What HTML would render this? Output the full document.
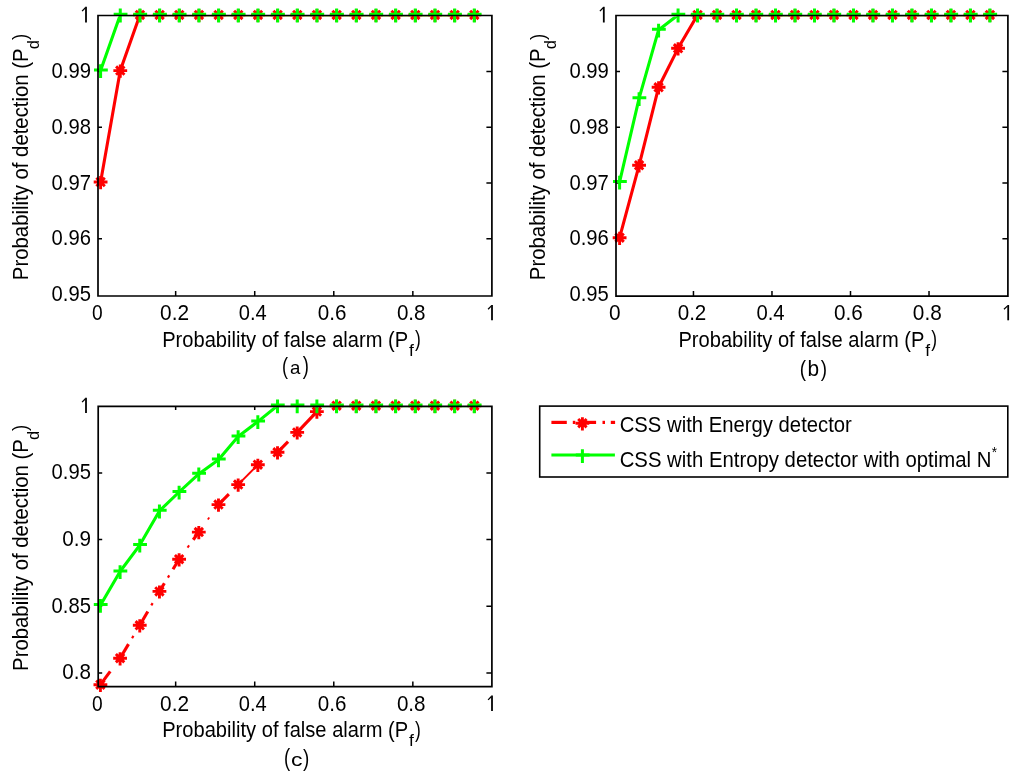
<!DOCTYPE html>
<html><head><meta charset="utf-8"><style>
html,body{margin:0;padding:0;background:#fff;}
svg{display:block;}
text{font-family:"Liberation Sans",sans-serif;fill:#000;}
</style></head><body>
<svg width="1024" height="779" viewBox="0 0 1024 779">
<rect width="1024" height="779" fill="#fff"/>
<clipPath id="ca"><rect x="99" y="16.5" width="391.9" height="278.5"/></clipPath>
<path d="M175.66 296V291M175.66 15.5V19.3M254.72 296V291M254.72 15.5V19.3M333.78 296V291M333.78 15.5V19.3M412.84 296V291M412.84 15.5V19.3M98 71.41H102M491.9 71.41H486.4M98 127.22H102M491.9 127.22H486.4M98 183.03H102M491.9 183.03H486.4M98 238.84H102M491.9 238.84H486.4" stroke="#000" stroke-width="1.5" fill="none"/>
<path d="M100.6 182 L120.27 70.6 L139.94 14.9 L159.61 14.9 L179.28 14.9 L198.95 14.9 L218.62 14.9 L238.29 14.9 L257.96 14.9 L277.63 14.9 L297.3 14.9 L316.97 14.9 L336.64 14.9 L356.31 14.9 L375.98 14.9 L395.65 14.9 L415.32 14.9 L434.99 14.9 L454.66 14.9 L474.33 14.9" stroke="#ff0000" stroke-width="3.1" fill="none" stroke-linejoin="round" clip-path="url(#ca)"/>
<path d="M100.6 70.6 L120.27 14.9 L139.94 14.9 L159.61 14.9 L179.28 14.9 L198.95 14.9 L218.62 14.9 L238.29 14.9 L257.96 14.9 L277.63 14.9 L297.3 14.9 L316.97 14.9 L336.64 14.9 L356.31 14.9 L375.98 14.9 L395.65 14.9 L415.32 14.9 L434.99 14.9 L454.66 14.9 L474.33 14.9" stroke="#00ff00" stroke-width="3.1" fill="none" stroke-linejoin="round" clip-path="url(#ca)"/>
<path d="M93.7 182H107.5M100.6 176V189.2M96.4 177.8L104.8 186.2M96.4 186.2L104.8 177.8" stroke="#ff0000" stroke-width="2.9" fill="none"/><circle cx="100.6" cy="182" r="3.6" fill="#ff0000"/>
<path d="M94 70H107.8M100.6 64.3V78.1" stroke="#00ff00" stroke-width="3.0" fill="none"/>
<path d="M113.37 70.6H127.17M120.27 64.6V77.8M116.07 66.4L124.47 74.8M116.07 74.8L124.47 66.4" stroke="#ff0000" stroke-width="2.9" fill="none"/><circle cx="120.27" cy="70.6" r="3.6" fill="#ff0000"/>
<path d="M113.67 14.3H127.47M120.27 8.6V22.4" stroke="#00ff00" stroke-width="3.0" fill="none"/>
<path d="M133.04 14.9H146.84M139.94 8.9V22.1M135.74 10.7L144.14 19.1M135.74 19.1L144.14 10.7" stroke="#ff0000" stroke-width="2.9" fill="none"/><circle cx="139.94" cy="14.9" r="3.6" fill="#ff0000"/>
<path d="M133.34 14.3H147.14M139.94 8.6V22.4" stroke="#00ff00" stroke-width="3.0" fill="none"/>
<path d="M152.71 14.9H166.51M159.61 8.9V22.1M155.41 10.7L163.81 19.1M155.41 19.1L163.81 10.7" stroke="#ff0000" stroke-width="2.9" fill="none"/><circle cx="159.61" cy="14.9" r="3.6" fill="#ff0000"/>
<path d="M153.01 14.3H166.81M159.61 8.6V22.4" stroke="#00ff00" stroke-width="3.0" fill="none"/>
<path d="M172.38 14.9H186.18M179.28 8.9V22.1M175.08 10.7L183.48 19.1M175.08 19.1L183.48 10.7" stroke="#ff0000" stroke-width="2.9" fill="none"/><circle cx="179.28" cy="14.9" r="3.6" fill="#ff0000"/>
<path d="M172.68 14.3H186.48M179.28 8.6V22.4" stroke="#00ff00" stroke-width="3.0" fill="none"/>
<path d="M192.05 14.9H205.85M198.95 8.9V22.1M194.75 10.7L203.15 19.1M194.75 19.1L203.15 10.7" stroke="#ff0000" stroke-width="2.9" fill="none"/><circle cx="198.95" cy="14.9" r="3.6" fill="#ff0000"/>
<path d="M192.35 14.3H206.15M198.95 8.6V22.4" stroke="#00ff00" stroke-width="3.0" fill="none"/>
<path d="M211.72 14.9H225.52M218.62 8.9V22.1M214.42 10.7L222.82 19.1M214.42 19.1L222.82 10.7" stroke="#ff0000" stroke-width="2.9" fill="none"/><circle cx="218.62" cy="14.9" r="3.6" fill="#ff0000"/>
<path d="M212.02 14.3H225.82M218.62 8.6V22.4" stroke="#00ff00" stroke-width="3.0" fill="none"/>
<path d="M231.39 14.9H245.19M238.29 8.9V22.1M234.09 10.7L242.49 19.1M234.09 19.1L242.49 10.7" stroke="#ff0000" stroke-width="2.9" fill="none"/><circle cx="238.29" cy="14.9" r="3.6" fill="#ff0000"/>
<path d="M231.69 14.3H245.49M238.29 8.6V22.4" stroke="#00ff00" stroke-width="3.0" fill="none"/>
<path d="M251.06 14.9H264.86M257.96 8.9V22.1M253.76 10.7L262.16 19.1M253.76 19.1L262.16 10.7" stroke="#ff0000" stroke-width="2.9" fill="none"/><circle cx="257.96" cy="14.9" r="3.6" fill="#ff0000"/>
<path d="M251.36 14.3H265.16M257.96 8.6V22.4" stroke="#00ff00" stroke-width="3.0" fill="none"/>
<path d="M270.73 14.9H284.53M277.63 8.9V22.1M273.43 10.7L281.83 19.1M273.43 19.1L281.83 10.7" stroke="#ff0000" stroke-width="2.9" fill="none"/><circle cx="277.63" cy="14.9" r="3.6" fill="#ff0000"/>
<path d="M271.03 14.3H284.83M277.63 8.6V22.4" stroke="#00ff00" stroke-width="3.0" fill="none"/>
<path d="M290.4 14.9H304.2M297.3 8.9V22.1M293.1 10.7L301.5 19.1M293.1 19.1L301.5 10.7" stroke="#ff0000" stroke-width="2.9" fill="none"/><circle cx="297.3" cy="14.9" r="3.6" fill="#ff0000"/>
<path d="M290.7 14.3H304.5M297.3 8.6V22.4" stroke="#00ff00" stroke-width="3.0" fill="none"/>
<path d="M310.07 14.9H323.87M316.97 8.9V22.1M312.77 10.7L321.17 19.1M312.77 19.1L321.17 10.7" stroke="#ff0000" stroke-width="2.9" fill="none"/><circle cx="316.97" cy="14.9" r="3.6" fill="#ff0000"/>
<path d="M310.37 14.3H324.17M316.97 8.6V22.4" stroke="#00ff00" stroke-width="3.0" fill="none"/>
<path d="M329.74 14.9H343.54M336.64 8.9V22.1M332.44 10.7L340.84 19.1M332.44 19.1L340.84 10.7" stroke="#ff0000" stroke-width="2.9" fill="none"/><circle cx="336.64" cy="14.9" r="3.6" fill="#ff0000"/>
<path d="M330.04 14.3H343.84M336.64 8.6V22.4" stroke="#00ff00" stroke-width="3.0" fill="none"/>
<path d="M349.41 14.9H363.21M356.31 8.9V22.1M352.11 10.7L360.51 19.1M352.11 19.1L360.51 10.7" stroke="#ff0000" stroke-width="2.9" fill="none"/><circle cx="356.31" cy="14.9" r="3.6" fill="#ff0000"/>
<path d="M349.71 14.3H363.51M356.31 8.6V22.4" stroke="#00ff00" stroke-width="3.0" fill="none"/>
<path d="M369.08 14.9H382.88M375.98 8.9V22.1M371.78 10.7L380.18 19.1M371.78 19.1L380.18 10.7" stroke="#ff0000" stroke-width="2.9" fill="none"/><circle cx="375.98" cy="14.9" r="3.6" fill="#ff0000"/>
<path d="M369.38 14.3H383.18M375.98 8.6V22.4" stroke="#00ff00" stroke-width="3.0" fill="none"/>
<path d="M388.75 14.9H402.55M395.65 8.9V22.1M391.45 10.7L399.85 19.1M391.45 19.1L399.85 10.7" stroke="#ff0000" stroke-width="2.9" fill="none"/><circle cx="395.65" cy="14.9" r="3.6" fill="#ff0000"/>
<path d="M389.05 14.3H402.85M395.65 8.6V22.4" stroke="#00ff00" stroke-width="3.0" fill="none"/>
<path d="M408.42 14.9H422.22M415.32 8.9V22.1M411.12 10.7L419.52 19.1M411.12 19.1L419.52 10.7" stroke="#ff0000" stroke-width="2.9" fill="none"/><circle cx="415.32" cy="14.9" r="3.6" fill="#ff0000"/>
<path d="M408.72 14.3H422.52M415.32 8.6V22.4" stroke="#00ff00" stroke-width="3.0" fill="none"/>
<path d="M428.09 14.9H441.89M434.99 8.9V22.1M430.79 10.7L439.19 19.1M430.79 19.1L439.19 10.7" stroke="#ff0000" stroke-width="2.9" fill="none"/><circle cx="434.99" cy="14.9" r="3.6" fill="#ff0000"/>
<path d="M428.39 14.3H442.19M434.99 8.6V22.4" stroke="#00ff00" stroke-width="3.0" fill="none"/>
<path d="M447.76 14.9H461.56M454.66 8.9V22.1M450.46 10.7L458.86 19.1M450.46 19.1L458.86 10.7" stroke="#ff0000" stroke-width="2.9" fill="none"/><circle cx="454.66" cy="14.9" r="3.6" fill="#ff0000"/>
<path d="M448.06 14.3H461.86M454.66 8.6V22.4" stroke="#00ff00" stroke-width="3.0" fill="none"/>
<path d="M467.43 14.9H481.23M474.33 8.9V22.1M470.13 10.7L478.53 19.1M470.13 19.1L478.53 10.7" stroke="#ff0000" stroke-width="2.9" fill="none"/><circle cx="474.33" cy="14.9" r="3.6" fill="#ff0000"/>
<path d="M467.73 14.3H481.53M474.33 8.6V22.4" stroke="#00ff00" stroke-width="3.0" fill="none"/>
<path d="M98 15.5H491.9V296H98Z" stroke="#000" stroke-width="1.7" fill="none"/>
<clipPath id="cb"><rect x="617" y="16.5" width="389.9" height="278.6"/></clipPath>
<path d="M693.46 296.1V291.1M693.46 15.5V19.3M771.98 296.1V291.1M771.98 15.5V19.3M850.5 296.1V291.1M850.5 15.5V19.3M929.02 296.1V291.1M929.02 15.5V19.3M616 71.41H620M1007.9 71.41H1002.4M616 127.22H620M1007.9 127.22H1002.4M616 183.03H620M1007.9 183.03H1002.4M616 238.84H620M1007.9 238.84H1002.4" stroke="#000" stroke-width="1.5" fill="none"/>
<path d="M619.6 237.7 L639.09 165.29 L658.58 87.31 L678.07 48.32 L697.56 14.9 L717.05 14.9 L736.54 14.9 L756.03 14.9 L775.52 14.9 L795.01 14.9 L814.5 14.9 L833.99 14.9 L853.48 14.9 L872.97 14.9 L892.46 14.9 L911.95 14.9 L931.44 14.9 L950.93 14.9 L970.42 14.9 L989.91 14.9" stroke="#ff0000" stroke-width="3.1" fill="none" stroke-linejoin="round" clip-path="url(#cb)"/>
<path d="M619.6 182 L639.09 98.45 L658.58 29.94 L678.07 14.9 L697.56 14.9 L717.05 14.9 L736.54 14.9 L756.03 14.9 L775.52 14.9 L795.01 14.9 L814.5 14.9 L833.99 14.9 L853.48 14.9 L872.97 14.9 L892.46 14.9 L911.95 14.9 L931.44 14.9 L950.93 14.9 L970.42 14.9 L989.91 14.9" stroke="#00ff00" stroke-width="3.1" fill="none" stroke-linejoin="round" clip-path="url(#cb)"/>
<path d="M612.7 237.7H626.5M619.6 231.7V244.9M615.4 233.5L623.8 241.9M615.4 241.9L623.8 233.5" stroke="#ff0000" stroke-width="2.9" fill="none"/><circle cx="619.6" cy="237.7" r="3.6" fill="#ff0000"/>
<path d="M613 181.4H626.8M619.6 175.7V189.5" stroke="#00ff00" stroke-width="3.0" fill="none"/>
<path d="M632.19 165.29H645.99M639.09 159.29V172.49M634.89 161.09L643.29 169.49M634.89 169.49L643.29 161.09" stroke="#ff0000" stroke-width="2.9" fill="none"/><circle cx="639.09" cy="165.29" r="3.6" fill="#ff0000"/>
<path d="M632.49 97.85H646.29M639.09 92.15V105.95" stroke="#00ff00" stroke-width="3.0" fill="none"/>
<path d="M651.68 87.31H665.48M658.58 81.31V94.51M654.38 83.11L662.78 91.51M654.38 91.51L662.78 83.11" stroke="#ff0000" stroke-width="2.9" fill="none"/><circle cx="658.58" cy="87.31" r="3.6" fill="#ff0000"/>
<path d="M651.98 29.34H665.78M658.58 23.64V37.44" stroke="#00ff00" stroke-width="3.0" fill="none"/>
<path d="M671.17 48.32H684.97M678.07 42.32V55.52M673.87 44.12L682.27 52.52M673.87 52.52L682.27 44.12" stroke="#ff0000" stroke-width="2.9" fill="none"/><circle cx="678.07" cy="48.32" r="3.6" fill="#ff0000"/>
<path d="M671.47 14.3H685.27M678.07 8.6V22.4" stroke="#00ff00" stroke-width="3.0" fill="none"/>
<path d="M690.66 14.9H704.46M697.56 8.9V22.1M693.36 10.7L701.76 19.1M693.36 19.1L701.76 10.7" stroke="#ff0000" stroke-width="2.9" fill="none"/><circle cx="697.56" cy="14.9" r="3.6" fill="#ff0000"/>
<path d="M690.96 14.3H704.76M697.56 8.6V22.4" stroke="#00ff00" stroke-width="3.0" fill="none"/>
<path d="M710.15 14.9H723.95M717.05 8.9V22.1M712.85 10.7L721.25 19.1M712.85 19.1L721.25 10.7" stroke="#ff0000" stroke-width="2.9" fill="none"/><circle cx="717.05" cy="14.9" r="3.6" fill="#ff0000"/>
<path d="M710.45 14.3H724.25M717.05 8.6V22.4" stroke="#00ff00" stroke-width="3.0" fill="none"/>
<path d="M729.64 14.9H743.44M736.54 8.9V22.1M732.34 10.7L740.74 19.1M732.34 19.1L740.74 10.7" stroke="#ff0000" stroke-width="2.9" fill="none"/><circle cx="736.54" cy="14.9" r="3.6" fill="#ff0000"/>
<path d="M729.94 14.3H743.74M736.54 8.6V22.4" stroke="#00ff00" stroke-width="3.0" fill="none"/>
<path d="M749.13 14.9H762.93M756.03 8.9V22.1M751.83 10.7L760.23 19.1M751.83 19.1L760.23 10.7" stroke="#ff0000" stroke-width="2.9" fill="none"/><circle cx="756.03" cy="14.9" r="3.6" fill="#ff0000"/>
<path d="M749.43 14.3H763.23M756.03 8.6V22.4" stroke="#00ff00" stroke-width="3.0" fill="none"/>
<path d="M768.62 14.9H782.42M775.52 8.9V22.1M771.32 10.7L779.72 19.1M771.32 19.1L779.72 10.7" stroke="#ff0000" stroke-width="2.9" fill="none"/><circle cx="775.52" cy="14.9" r="3.6" fill="#ff0000"/>
<path d="M768.92 14.3H782.72M775.52 8.6V22.4" stroke="#00ff00" stroke-width="3.0" fill="none"/>
<path d="M788.11 14.9H801.91M795.01 8.9V22.1M790.81 10.7L799.21 19.1M790.81 19.1L799.21 10.7" stroke="#ff0000" stroke-width="2.9" fill="none"/><circle cx="795.01" cy="14.9" r="3.6" fill="#ff0000"/>
<path d="M788.41 14.3H802.21M795.01 8.6V22.4" stroke="#00ff00" stroke-width="3.0" fill="none"/>
<path d="M807.6 14.9H821.4M814.5 8.9V22.1M810.3 10.7L818.7 19.1M810.3 19.1L818.7 10.7" stroke="#ff0000" stroke-width="2.9" fill="none"/><circle cx="814.5" cy="14.9" r="3.6" fill="#ff0000"/>
<path d="M807.9 14.3H821.7M814.5 8.6V22.4" stroke="#00ff00" stroke-width="3.0" fill="none"/>
<path d="M827.09 14.9H840.89M833.99 8.9V22.1M829.79 10.7L838.19 19.1M829.79 19.1L838.19 10.7" stroke="#ff0000" stroke-width="2.9" fill="none"/><circle cx="833.99" cy="14.9" r="3.6" fill="#ff0000"/>
<path d="M827.39 14.3H841.19M833.99 8.6V22.4" stroke="#00ff00" stroke-width="3.0" fill="none"/>
<path d="M846.58 14.9H860.38M853.48 8.9V22.1M849.28 10.7L857.68 19.1M849.28 19.1L857.68 10.7" stroke="#ff0000" stroke-width="2.9" fill="none"/><circle cx="853.48" cy="14.9" r="3.6" fill="#ff0000"/>
<path d="M846.88 14.3H860.68M853.48 8.6V22.4" stroke="#00ff00" stroke-width="3.0" fill="none"/>
<path d="M866.07 14.9H879.87M872.97 8.9V22.1M868.77 10.7L877.17 19.1M868.77 19.1L877.17 10.7" stroke="#ff0000" stroke-width="2.9" fill="none"/><circle cx="872.97" cy="14.9" r="3.6" fill="#ff0000"/>
<path d="M866.37 14.3H880.17M872.97 8.6V22.4" stroke="#00ff00" stroke-width="3.0" fill="none"/>
<path d="M885.56 14.9H899.36M892.46 8.9V22.1M888.26 10.7L896.66 19.1M888.26 19.1L896.66 10.7" stroke="#ff0000" stroke-width="2.9" fill="none"/><circle cx="892.46" cy="14.9" r="3.6" fill="#ff0000"/>
<path d="M885.86 14.3H899.66M892.46 8.6V22.4" stroke="#00ff00" stroke-width="3.0" fill="none"/>
<path d="M905.05 14.9H918.85M911.95 8.9V22.1M907.75 10.7L916.15 19.1M907.75 19.1L916.15 10.7" stroke="#ff0000" stroke-width="2.9" fill="none"/><circle cx="911.95" cy="14.9" r="3.6" fill="#ff0000"/>
<path d="M905.35 14.3H919.15M911.95 8.6V22.4" stroke="#00ff00" stroke-width="3.0" fill="none"/>
<path d="M924.54 14.9H938.34M931.44 8.9V22.1M927.24 10.7L935.64 19.1M927.24 19.1L935.64 10.7" stroke="#ff0000" stroke-width="2.9" fill="none"/><circle cx="931.44" cy="14.9" r="3.6" fill="#ff0000"/>
<path d="M924.84 14.3H938.64M931.44 8.6V22.4" stroke="#00ff00" stroke-width="3.0" fill="none"/>
<path d="M944.03 14.9H957.83M950.93 8.9V22.1M946.73 10.7L955.13 19.1M946.73 19.1L955.13 10.7" stroke="#ff0000" stroke-width="2.9" fill="none"/><circle cx="950.93" cy="14.9" r="3.6" fill="#ff0000"/>
<path d="M944.33 14.3H958.13M950.93 8.6V22.4" stroke="#00ff00" stroke-width="3.0" fill="none"/>
<path d="M963.52 14.9H977.32M970.42 8.9V22.1M966.22 10.7L974.62 19.1M966.22 19.1L974.62 10.7" stroke="#ff0000" stroke-width="2.9" fill="none"/><circle cx="970.42" cy="14.9" r="3.6" fill="#ff0000"/>
<path d="M963.82 14.3H977.62M970.42 8.6V22.4" stroke="#00ff00" stroke-width="3.0" fill="none"/>
<path d="M983.01 14.9H996.81M989.91 8.9V22.1M985.71 10.7L994.11 19.1M985.71 19.1L994.11 10.7" stroke="#ff0000" stroke-width="2.9" fill="none"/><circle cx="989.91" cy="14.9" r="3.6" fill="#ff0000"/>
<path d="M983.31 14.3H997.11M989.91 8.6V22.4" stroke="#00ff00" stroke-width="3.0" fill="none"/>
<path d="M616 15.5H1007.9V296.1H616Z" stroke="#000" stroke-width="1.7" fill="none"/>
<clipPath id="cc"><rect x="99.2" y="407.3" width="391.7" height="278.3"/></clipPath>
<path d="M175.66 686.6V681.6M175.66 406.3V410.1M254.72 686.6V681.6M254.72 406.3V410.1M333.78 686.6V681.6M333.78 406.3V410.1M412.84 686.6V681.6M412.84 406.3V410.1M98.2 472.91H102.2M491.9 472.91H486.4M98.2 539.57H102.2M491.9 539.57H486.4M98.2 606.24H102.2M491.9 606.24H486.4M98.2 672.9H102.2M491.9 672.9H486.4" stroke="#000" stroke-width="1.5" fill="none"/>
<g clip-path="url(#cc)" stroke="#ff0000" stroke-width="3.1"><line x1="100.4" y1="684.7" x2="110.24" y2="671.45"/><line x1="120.08" y1="658.2" x2="128.5" y2="644.13"/><line x1="132.04" y1="638.2" x2="133.43" y2="635.89" stroke-width="2.2"/><line x1="139.76" y1="625.3" x2="147.79" y2="611.46"/><line x1="151.31" y1="605.41" x2="152.61" y2="603.16" stroke-width="2.2"/><line x1="159.44" y1="591.4" x2="164.39" y2="583.29"/><line x1="167.89" y1="577.58" x2="169.24" y2="575.36" stroke-width="2.2"/><line x1="173" y1="569.22" x2="179.12" y2="559.2"/><line x1="187.52" y1="547.63" x2="189.11" y2="545.44" stroke-width="2.0"/><line x1="193.22" y1="539.78" x2="198.8" y2="532.1"/><line x1="207.82" y1="519.5" x2="209.28" y2="517.46" stroke-width="1.8"/><line x1="218.48" y1="504.6" x2="228.86" y2="494.05"/><line x1="238.16" y1="484.6" x2="257.84" y2="464.7" stroke-width="2.0"/><line x1="277.52" y1="452.3" x2="288.07" y2="441.63"/><line x1="297.2" y1="432.4" x2="316.88" y2="411.6"/></g>
<path d="M100.4 605.2 L120.08 571.5 L139.76 545.1 L159.44 510.9 L179.12 492 L198.8 473.9 L218.48 459.7 L238.16 436.5 L257.84 421.6 L277.52 405.7 L297.2 405.7 L316.88 405.7 L336.56 405.7 L356.24 405.7 L375.92 405.7 L395.6 405.7 L415.28 405.7 L434.96 405.7 L454.64 405.7 L474.32 405.7" stroke="#00ff00" stroke-width="3.1" fill="none" stroke-linejoin="round" clip-path="url(#cc)"/>
<path d="M93.5 684.7H107.3M100.4 678.7V691.9M96.2 680.5L104.6 688.9M96.2 688.9L104.6 680.5" stroke="#ff0000" stroke-width="2.9" fill="none"/><circle cx="100.4" cy="684.7" r="3.6" fill="#ff0000"/>
<path d="M93.8 604.6H107.6M100.4 598.9V612.7" stroke="#00ff00" stroke-width="3.0" fill="none"/>
<path d="M113.18 658.2H126.98M120.08 652.2V665.4M115.88 654L124.28 662.4M115.88 662.4L124.28 654" stroke="#ff0000" stroke-width="2.9" fill="none"/><circle cx="120.08" cy="658.2" r="3.6" fill="#ff0000"/>
<path d="M113.48 570.9H127.28M120.08 565.2V579" stroke="#00ff00" stroke-width="3.0" fill="none"/>
<path d="M132.86 625.3H146.66M139.76 619.3V632.5M135.56 621.1L143.96 629.5M135.56 629.5L143.96 621.1" stroke="#ff0000" stroke-width="2.9" fill="none"/><circle cx="139.76" cy="625.3" r="3.6" fill="#ff0000"/>
<path d="M133.16 544.5H146.96M139.76 538.8V552.6" stroke="#00ff00" stroke-width="3.0" fill="none"/>
<path d="M152.54 591.4H166.34M159.44 585.4V598.6M155.24 587.2L163.64 595.6M155.24 595.6L163.64 587.2" stroke="#ff0000" stroke-width="2.9" fill="none"/><circle cx="159.44" cy="591.4" r="3.6" fill="#ff0000"/>
<path d="M152.84 510.3H166.64M159.44 504.6V518.4" stroke="#00ff00" stroke-width="3.0" fill="none"/>
<path d="M172.22 559.2H186.02M179.12 553.2V566.4M174.92 555L183.32 563.4M174.92 563.4L183.32 555" stroke="#ff0000" stroke-width="2.9" fill="none"/><circle cx="179.12" cy="559.2" r="3.6" fill="#ff0000"/>
<path d="M172.52 491.4H186.32M179.12 485.7V499.5" stroke="#00ff00" stroke-width="3.0" fill="none"/>
<path d="M191.9 532.1H205.7M198.8 526.1V539.3M194.6 527.9L203 536.3M194.6 536.3L203 527.9" stroke="#ff0000" stroke-width="2.9" fill="none"/><circle cx="198.8" cy="532.1" r="3.6" fill="#ff0000"/>
<path d="M192.2 473.3H206M198.8 467.6V481.4" stroke="#00ff00" stroke-width="3.0" fill="none"/>
<path d="M211.58 504.6H225.38M218.48 498.6V511.8M214.28 500.4L222.68 508.8M214.28 508.8L222.68 500.4" stroke="#ff0000" stroke-width="2.9" fill="none"/><circle cx="218.48" cy="504.6" r="3.6" fill="#ff0000"/>
<path d="M211.88 459.1H225.68M218.48 453.4V467.2" stroke="#00ff00" stroke-width="3.0" fill="none"/>
<path d="M231.26 484.6H245.06M238.16 478.6V491.8M233.96 480.4L242.36 488.8M233.96 488.8L242.36 480.4" stroke="#ff0000" stroke-width="2.9" fill="none"/><circle cx="238.16" cy="484.6" r="3.6" fill="#ff0000"/>
<path d="M231.56 435.9H245.36M238.16 430.2V444" stroke="#00ff00" stroke-width="3.0" fill="none"/>
<path d="M250.94 464.7H264.74M257.84 458.7V471.9M253.64 460.5L262.04 468.9M253.64 468.9L262.04 460.5" stroke="#ff0000" stroke-width="2.9" fill="none"/><circle cx="257.84" cy="464.7" r="3.6" fill="#ff0000"/>
<path d="M251.24 421H265.04M257.84 415.3V429.1" stroke="#00ff00" stroke-width="3.0" fill="none"/>
<path d="M270.62 452.3H284.42M277.52 446.3V459.5M273.32 448.1L281.72 456.5M273.32 456.5L281.72 448.1" stroke="#ff0000" stroke-width="2.9" fill="none"/><circle cx="277.52" cy="452.3" r="3.6" fill="#ff0000"/>
<path d="M270.92 405.1H284.72M277.52 399.4V413.2" stroke="#00ff00" stroke-width="3.0" fill="none"/>
<path d="M290.3 432.4H304.1M297.2 426.4V439.6M293 428.2L301.4 436.6M293 436.6L301.4 428.2" stroke="#ff0000" stroke-width="2.9" fill="none"/><circle cx="297.2" cy="432.4" r="3.6" fill="#ff0000"/>
<path d="M290.6 405.1H304.4M297.2 399.4V413.2" stroke="#00ff00" stroke-width="3.0" fill="none"/>
<path d="M309.98 411.6H323.78M316.88 405.6V418.8M312.68 407.4L321.08 415.8M312.68 415.8L321.08 407.4" stroke="#ff0000" stroke-width="2.9" fill="none"/><circle cx="316.88" cy="411.6" r="3.6" fill="#ff0000"/>
<path d="M310.28 405.1H324.08M316.88 399.4V413.2" stroke="#00ff00" stroke-width="3.0" fill="none"/>
<path d="M329.66 405.7H343.46M336.56 399.7V412.9M332.36 401.5L340.76 409.9M332.36 409.9L340.76 401.5" stroke="#ff0000" stroke-width="2.9" fill="none"/><circle cx="336.56" cy="405.7" r="3.6" fill="#ff0000"/>
<path d="M329.96 405.1H343.76M336.56 399.4V413.2" stroke="#00ff00" stroke-width="3.0" fill="none"/>
<path d="M349.34 405.7H363.14M356.24 399.7V412.9M352.04 401.5L360.44 409.9M352.04 409.9L360.44 401.5" stroke="#ff0000" stroke-width="2.9" fill="none"/><circle cx="356.24" cy="405.7" r="3.6" fill="#ff0000"/>
<path d="M349.64 405.1H363.44M356.24 399.4V413.2" stroke="#00ff00" stroke-width="3.0" fill="none"/>
<path d="M369.02 405.7H382.82M375.92 399.7V412.9M371.72 401.5L380.12 409.9M371.72 409.9L380.12 401.5" stroke="#ff0000" stroke-width="2.9" fill="none"/><circle cx="375.92" cy="405.7" r="3.6" fill="#ff0000"/>
<path d="M369.32 405.1H383.12M375.92 399.4V413.2" stroke="#00ff00" stroke-width="3.0" fill="none"/>
<path d="M388.7 405.7H402.5M395.6 399.7V412.9M391.4 401.5L399.8 409.9M391.4 409.9L399.8 401.5" stroke="#ff0000" stroke-width="2.9" fill="none"/><circle cx="395.6" cy="405.7" r="3.6" fill="#ff0000"/>
<path d="M389 405.1H402.8M395.6 399.4V413.2" stroke="#00ff00" stroke-width="3.0" fill="none"/>
<path d="M408.38 405.7H422.18M415.28 399.7V412.9M411.08 401.5L419.48 409.9M411.08 409.9L419.48 401.5" stroke="#ff0000" stroke-width="2.9" fill="none"/><circle cx="415.28" cy="405.7" r="3.6" fill="#ff0000"/>
<path d="M408.68 405.1H422.48M415.28 399.4V413.2" stroke="#00ff00" stroke-width="3.0" fill="none"/>
<path d="M428.06 405.7H441.86M434.96 399.7V412.9M430.76 401.5L439.16 409.9M430.76 409.9L439.16 401.5" stroke="#ff0000" stroke-width="2.9" fill="none"/><circle cx="434.96" cy="405.7" r="3.6" fill="#ff0000"/>
<path d="M428.36 405.1H442.16M434.96 399.4V413.2" stroke="#00ff00" stroke-width="3.0" fill="none"/>
<path d="M447.74 405.7H461.54M454.64 399.7V412.9M450.44 401.5L458.84 409.9M450.44 409.9L458.84 401.5" stroke="#ff0000" stroke-width="2.9" fill="none"/><circle cx="454.64" cy="405.7" r="3.6" fill="#ff0000"/>
<path d="M448.04 405.1H461.84M454.64 399.4V413.2" stroke="#00ff00" stroke-width="3.0" fill="none"/>
<path d="M467.42 405.7H481.22M474.32 399.7V412.9M470.12 401.5L478.52 409.9M470.12 409.9L478.52 401.5" stroke="#ff0000" stroke-width="2.9" fill="none"/><circle cx="474.32" cy="405.7" r="3.6" fill="#ff0000"/>
<path d="M467.72 405.1H481.52M474.32 399.4V413.2" stroke="#00ff00" stroke-width="3.0" fill="none"/>
<path d="M98.2 406.3H491.9V686.6H98.2Z" stroke="#000" stroke-width="1.7" fill="none"/>
<rect x="539.7" y="406.1" width="468.1" height="70.9" fill="#fff" stroke="#000" stroke-width="1.6"/>
<line x1="551.4" y1="422.4" x2="566.8" y2="422.4" stroke="#ff0000" stroke-width="3.2"/>
<line x1="572.8" y1="422.4" x2="575.3" y2="422.4" stroke="#ff0000" stroke-width="3.2"/>
<line x1="581" y1="422.4" x2="596.1" y2="422.4" stroke="#ff0000" stroke-width="3.2"/>
<line x1="602.5" y1="422.4" x2="605" y2="422.4" stroke="#ff0000" stroke-width="3.2"/>
<line x1="610.8" y1="422.4" x2="615.1" y2="422.4" stroke="#ff0000" stroke-width="3.2"/>
<path d="M575.5 423.2H589.3M582.4 417.2V430.4M578.2 419L586.6 427.4M578.2 427.4L586.6 419" stroke="#ff0000" stroke-width="2.9" fill="none"/><circle cx="582.4" cy="423.2" r="3.6" fill="#ff0000"/>
<line x1="551.4" y1="455.1" x2="614.9" y2="455.1" stroke="#00ff00" stroke-width="3"/>
<path d="M575.8 455H589.6M582.4 449.3V463.1" stroke="#00ff00" stroke-width="3.0" fill="none"/>
<g style="filter:grayscale(1)">
<path d="M86 6.8V22.5" stroke="#000" stroke-width="1.8" fill="none"/>
<path d="M82.1 11.1L85.4 7.7" stroke="#000" stroke-width="1.3" fill="none"/>
<text transform="translate(51.59 77.89) scale(0.9467 1)" font-size="21.41">0.99</text>
<text transform="translate(51.59 133.79) scale(0.9508 1)" font-size="21.26">0.98</text>
<text transform="translate(51.59 189.59) scale(0.9467 1)" font-size="21.41">0.97</text>
<text transform="translate(51.59 245.39) scale(0.9441 1)" font-size="21.41">0.96</text>
<text transform="translate(51.59 301.19) scale(0.9441 1)" font-size="21.41">0.95</text>
<path d="M603.8 6.8V22.5" stroke="#000" stroke-width="1.8" fill="none"/>
<path d="M599.9 11.1L603.2 7.7" stroke="#000" stroke-width="1.3" fill="none"/>
<text transform="translate(569.39 77.89) scale(0.9467 1)" font-size="21.41">0.99</text>
<text transform="translate(569.39 133.79) scale(0.9508 1)" font-size="21.26">0.98</text>
<text transform="translate(569.39 189.59) scale(0.9467 1)" font-size="21.41">0.97</text>
<text transform="translate(569.39 245.39) scale(0.9441 1)" font-size="21.41">0.96</text>
<text transform="translate(569.39 301.19) scale(0.9441 1)" font-size="21.41">0.95</text>
<path d="M86 397.8V413" stroke="#000" stroke-width="1.8" fill="none"/>
<path d="M82.1 402.1L85.4 398.7" stroke="#000" stroke-width="1.3" fill="none"/>
<text transform="translate(51.59 479.49) scale(0.9441 1)" font-size="21.41">0.95</text>
<text transform="translate(62.28 546.19) scale(0.9671 1)" font-size="21.41">0.9</text>
<text transform="translate(51.59 612.79) scale(0.9508 1)" font-size="21.26">0.85</text>
<text transform="translate(62.28 679.49) scale(0.9702 1)" font-size="21.26">0.8</text>
<text transform="translate(92.03 320.08) scale(0.8898 1)" font-size="21.55">0</text>
<text transform="translate(92.03 710.68) scale(0.8898 1)" font-size="21.55">0</text>
<text transform="translate(160.07 320.08) scale(0.9678 1)" font-size="21.55">0.2</text>
<text transform="translate(160.07 710.68) scale(0.9678 1)" font-size="21.55">0.2</text>
<text transform="translate(238.8 320.08) scale(0.9323 1)" font-size="21.55">0.4</text>
<text transform="translate(238.8 710.68) scale(0.9323 1)" font-size="21.55">0.4</text>
<text transform="translate(317.78 320.08) scale(0.9571 1)" font-size="21.55">0.6</text>
<text transform="translate(317.78 710.68) scale(0.9571 1)" font-size="21.55">0.6</text>
<text transform="translate(396.88 320.09) scale(0.9638 1)" font-size="21.40">0.8</text>
<text transform="translate(396.88 710.69) scale(0.9638 1)" font-size="21.40">0.8</text>
<path d="M492 305V320.3" stroke="#000" stroke-width="1.8" fill="none"/>
<path d="M488.1 309.3L491.4 305.9" stroke="#000" stroke-width="1.3" fill="none"/>
<path d="M492 695.6V710.9" stroke="#000" stroke-width="1.8" fill="none"/>
<path d="M488.1 699.9L491.4 696.5" stroke="#000" stroke-width="1.3" fill="none"/>
<text transform="translate(609.07 320.08) scale(0.9664 1)" font-size="21.55">0</text>
<text transform="translate(677.68 320.08) scale(0.9572 1)" font-size="21.55">0.2</text>
<text transform="translate(756.39 320.08) scale(0.9428 1)" font-size="21.55">0.4</text>
<text transform="translate(833.98 320.08) scale(0.9606 1)" font-size="21.55">0.6</text>
<text transform="translate(912.87 320.09) scale(0.9709 1)" font-size="21.40">0.8</text>
<path d="M1008.2 305V320.3" stroke="#000" stroke-width="1.8" fill="none"/>
<path d="M1004 309.3L1007.6 305.9" stroke="#000" stroke-width="1.3" fill="none"/>
<text transform="translate(162.19 346.7) scale(0.8962 1)" font-size="22.46">Probability of false alarm (P</text>
<text transform="translate(408.93 355.9) scale(1.0016 1)" font-size="17.38">f</text>
<text transform="translate(415.11 346.41) scale(0.8138 1)" font-size="21.39">)</text>
<text transform="translate(678.39 346.7) scale(0.8962 1)" font-size="22.46">Probability of false alarm (P</text>
<text transform="translate(925.13 355.9) scale(1.0016 1)" font-size="17.38">f</text>
<text transform="translate(931.31 346.41) scale(0.8138 1)" font-size="21.39">)</text>
<text transform="translate(162.19 737.2) scale(0.8962 1)" font-size="22.46">Probability of false alarm (P</text>
<text transform="translate(408.93 746.4) scale(1.0016 1)" font-size="17.38">f</text>
<text transform="translate(415.11 736.91) scale(0.8138 1)" font-size="21.39">)</text>
<text transform="translate(27.6 280.13) rotate(-90) scale(0.9118 1)" font-size="22.32">Probability of detection (P</text>
<text transform="translate(38.6 49.16) rotate(-90) scale(0.9716 1)" font-size="16.97">d</text>
<text transform="translate(27.48 40.09) rotate(-90) scale(0.8965 1)" font-size="21.07">)</text>
<text transform="translate(545.3 280.13) rotate(-90) scale(0.9118 1)" font-size="22.32">Probability of detection (P</text>
<text transform="translate(556.3 49.16) rotate(-90) scale(0.9716 1)" font-size="16.97">d</text>
<text transform="translate(545.18 40.09) rotate(-90) scale(0.8965 1)" font-size="21.07">)</text>
<text transform="translate(27.6 670.93) rotate(-90) scale(0.9118 1)" font-size="22.32">Probability of detection (P</text>
<text transform="translate(38.6 439.96) rotate(-90) scale(0.9716 1)" font-size="16.97">d</text>
<text transform="translate(27.48 430.89) rotate(-90) scale(0.8965 1)" font-size="21.07">)</text>
<text transform="translate(282.11 374.1) scale(0.7784 1)" font-size="23.32" style="stroke:none">(</text>
<text transform="translate(290.05 374.11) scale(0.9865 1)" font-size="18.91" style="stroke:none">a</text>
<text transform="translate(302.81 374.1) scale(0.7943 1)" font-size="23.32" style="stroke:none">)</text>
<text transform="translate(799.87 375.77) scale(0.8214 1)" font-size="22.99" style="stroke:none">(</text>
<text transform="translate(807.55 375.66) scale(0.9308 1)" font-size="22.43" style="stroke:none">b</text>
<text transform="translate(820.71 375.77) scale(0.8214 1)" font-size="22.99" style="stroke:none">)</text>
<text transform="translate(283.89 766.4) scale(0.7943 1)" font-size="23.32" style="stroke:none">(</text>
<text transform="translate(291.08 766.41) scale(1.1928 1)" font-size="19.27" style="stroke:none">c</text>
<text transform="translate(302.91 766.4) scale(0.8101 1)" font-size="23.32" style="stroke:none">)</text>
<text transform="translate(619.69 431.7) scale(0.8973 1)" font-size="22.61">CSS with Energy detector</text>
<text transform="translate(619.68 467.3) scale(0.9059 1)" font-size="22.46">CSS with Entropy detector with optimal N</text>
<text transform="translate(991.8 457.29) scale(0.8785 1)" font-size="15.49">*</text>
</g>
</svg>
</body></html>
